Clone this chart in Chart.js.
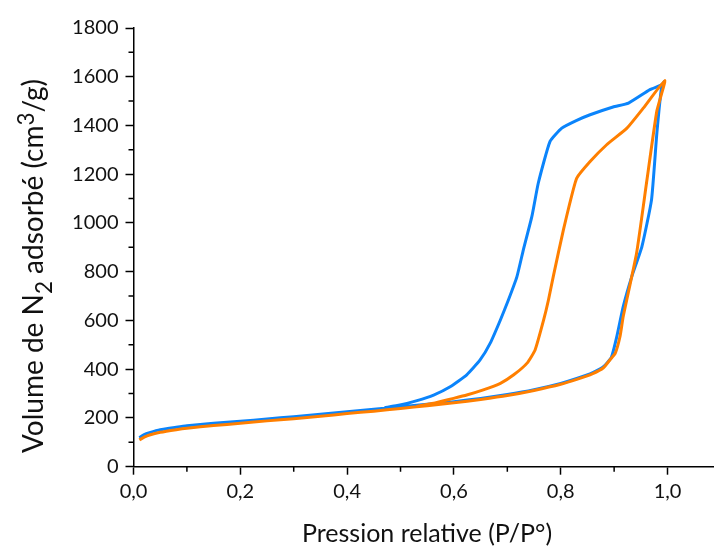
<!DOCTYPE html>
<html>
<head>
<meta charset="utf-8">
<script src="https://cdn.jsdelivr.net/npm/chart.js@4.4.1/dist/chart.umd.min.js"></script>
<style>
  html, body { margin: 0; padding: 0; background: #fff; }
  #wrap { width: 714px; height: 552px; }
</style>
</head>
<body>
<div id="wrap"><canvas id="myChart" width="714" height="552"></canvas></div>
<script>
// echantillon 1 (bleu) : adsorption puis desorption
const blueX = [0.011, 0.02, 0.03, 0.05, 0.08, 0.1, 0.15, 0.2, 0.25, 0.3, 0.35, 0.4, 0.45, 0.5, 0.55, 0.6,
  0.65, 0.7, 0.75, 0.8, 0.83, 0.86, 0.88, 0.895, 0.905, 0.917, 0.933, 0.952, 0.97, 0.98, 0.989, 0.994,
  0.989, 0.967, 0.927, 0.898, 0.855, 0.83, 0.802, 0.78, 0.758, 0.746, 0.73, 0.718, 0.702, 0.687, 0.668,
  0.649, 0.624, 0.593, 0.562, 0.531, 0.499, 0.47]
const blueY = [119, 132, 140, 152, 162, 168, 178, 186, 196, 205, 215, 226, 236, 246, 256, 267,
  280, 296, 316, 342, 362, 386, 410, 450, 534, 657, 780, 903, 1095, 1369, 1560, 1581,
  1567, 1547, 1492, 1476, 1444, 1421, 1389, 1335, 1164, 1027, 890, 780, 684, 602, 507,
  438, 377, 328, 294, 271, 253, 242]

// echantillon 2 (orange)
const orangeX = [0.011, 0.02, 0.03, 0.05, 0.08, 0.1, 0.15, 0.2, 0.25, 0.3, 0.35, 0.4, 0.45, 0.5, 0.55, 0.6,
  0.65, 0.7, 0.75, 0.8, 0.83, 0.86, 0.88, 0.892, 0.902, 0.911, 0.917, 0.942, 0.961, 0.98, 0.995,
  0.955, 0.924, 0.886, 0.855, 0.83, 0.817, 0.805, 0.786, 0.777, 0.768, 0.752, 0.737, 0.712, 0.687,
  0.655, 0.624, 0.593, 0.562, 0.53]
const orangeY = [110, 121, 130, 141, 152, 158, 169, 178, 188, 197, 207, 218, 228, 239, 250, 262,
  276, 292, 313, 338, 358, 382, 406, 438, 465, 534, 616, 876, 1170, 1460, 1585,
  1472, 1389, 1321, 1252, 1184, 1081, 972, 780, 684, 602, 479, 425, 377, 342,
  315, 294, 277, 260, 248]

const xTitle = 'Pression relative (P/P°)'
// [texte, decalage : 1 = indice, -1 = exposant]
const yTitleParts = [['Volume de N', 0], ['2', 1], [' adsorbé (cm', 0], ['3', -1], ['/g)', 0]]

function toPoints(xs, ys) {
  let pts = []
  for (let i = 0; i < xs.length; i++) {
    pts.push({x: xs[i], y: ys[i]})
  }
  return pts
}

const fontName = 'Lato'
const xTitleSize = 25
const yTitleSize = 28

// petites graduations + titres des axes
const extras = {
  id: 'extras',
  afterDraw(chart) {
    const ctx = chart.ctx
    const xs = chart.scales.x
    const ys = chart.scales.y
    const area = chart.chartArea
    ctx.save()
    ctx.strokeStyle = '#000'
    ctx.lineWidth = 1.5
    ctx.beginPath()
    for (let v = 0.1; v < 1.09; v += 0.2) {
      const px = xs.getPixelForValue(v)
      ctx.moveTo(px, area.bottom)
      ctx.lineTo(px, area.bottom + 5)
    }
    for (let v = 100; v < 1800; v += 200) {
      const py = ys.getPixelForValue(v)
      ctx.moveTo(area.left, py)
      ctx.lineTo(area.left - 5, py)
    }
    ctx.stroke()

    ctx.fillStyle = '#111'
    ctx.font = xTitleSize + 'px ' + fontName
    ctx.textAlign = 'center'
    ctx.textBaseline = 'alphabetic'
    ctx.fillText(xTitle, 427, 542)

    // titre vertical avec indice / exposant
    ctx.translate(43, 266)
    ctx.rotate(-Math.PI / 2)
    ctx.textAlign = 'left'
    let total = 0
    for (const part of yTitleParts) {
      ctx.font = (part[1] ? yTitleSize * 0.8 : yTitleSize) + 'px ' + fontName
      total += ctx.measureText(part[0]).width
    }
    let cx = -total / 2
    for (const part of yTitleParts) {
      ctx.font = (part[1] ? yTitleSize * 0.8 : yTitleSize) + 'px ' + fontName
      ctx.fillText(part[0], cx, part[1] * 9)
      cx += ctx.measureText(part[0]).width
    }
    ctx.restore()
  }
}

const ctx = document.getElementById('myChart').getContext('2d')

const config = {
  type: 'scatter',
  data: {
    datasets: [{
      label: 'bleu',
      data: toPoints(blueX, blueY),
      showLine: true,
      borderColor: '#0b84fb',
      borderWidth: 3,
      pointRadius: 0,
      tension: 0.15,
      order: 1
    }, {
      label: 'orange',
      data: toPoints(orangeX, orangeY),
      showLine: true,
      borderColor: '#ff7f00',
      borderWidth: 3,
      pointRadius: 0,
      tension: 0.15,
      order: 0
    }]
  },
  options: {
    responsive: false,
    animation: false,
    layout: { padding: { top: 28, left: 0, right: 0, bottom: 0 } },
    plugins: { legend: { display: false }, tooltip: { enabled: false } },
    scales: {
      x: {
        type: 'linear',
        min: 0,
        max: 1.087,
        afterFit: function(scale) { scale.height = 85.3 },
        border: { color: '#000', width: 1.5 },
        grid: { drawOnChartArea: false, color: '#000', tickLength: 8, tickWidth: 1.5 },
        ticks: {
          stepSize: 0.2,
          includeBounds: false,
          padding: 5,
          color: '#111',
          font: { family: fontName, size: 20 },
          maxRotation: 0,
          callback: function(v) { return v.toFixed(1).replace('.', ',') }
        }
      },
      y: {
        min: 0,
        max: 1800,
        afterFit: function(scale) { scale.width = 133.5 },
        border: { color: '#000', width: 1.5 },
        grid: { drawOnChartArea: false, color: '#000', tickLength: 8, tickWidth: 1.5 },
        ticks: {
          stepSize: 200,
          padding: 7,
          color: '#111',
          font: { family: fontName, size: 20 },
          callback: function(v) { return String(v) }
        }
      }
    }
  },
  plugins: [extras]
}

const myChart = new Chart(ctx, config)
</script>
</body>
</html>
